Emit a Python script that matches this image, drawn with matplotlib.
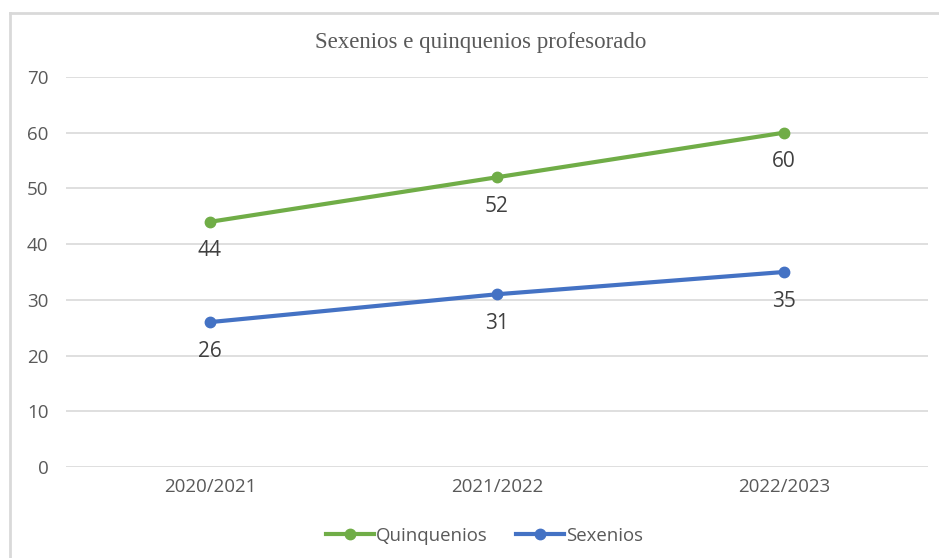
import matplotlib.pyplot as plt
from matplotlib.lines import Line2D

years = ['2020/2021', '2021/2022', '2022/2023']
quinquenios = [44, 52, 60]
sexenios = [26, 31, 35]
yticks = [0, 10, 20, 30, 40, 50, 60, 70]

green = '#70AD47'
blue = '#4472C4'
grey = '#595959'

fig = plt.figure(figsize=(9.39, 5.58), dpi=100)
ax = fig.add_axes([0.0708, 0.1631, 0.917, 0.699])

x = list(range(len(years)))
ax.plot(x, quinquenios, color=green, lw=3, marker='o', ms=7.5, label='Quinquenios',
        solid_capstyle='round', zorder=3)
ax.plot(x, sexenios, color=blue, lw=3, marker='o', ms=7.5, label='Sexenios',
        solid_capstyle='round', zorder=3)

for xi, v in zip(x, quinquenios):
    ax.annotate(str(v), (xi, v), xytext=(0, -21), textcoords='offset points',
                ha='center', va='center', fontsize=15, color='#404040', family='Open Sans')
for xi, v in zip(x, sexenios):
    ax.annotate(str(v), (xi, v), xytext=(0, -21), textcoords='offset points',
                ha='center', va='center', fontsize=15, color='#404040', family='Open Sans')

ax.set_xlim(-0.5, 2.5)
ax.set_ylim(0, 70)
ax.set_yticks(yticks)
ax.set_xticks(x)
ax.set_xticklabels(years)
ax.grid(axis='y', color='#D9D9D9', lw=1.2)
ax.set_axisbelow(True)
for s in ax.spines.values():
    s.set_visible(False)
ax.tick_params(length=0, labelsize=13.5, labelcolor=grey, pad=8)
ax.tick_params(axis='y', pad=13)
for lab in ax.get_xticklabels() + ax.get_yticklabels():
    lab.set_family('Open Sans')

fig.text(0.512, 0.924, 'Sexenios e quinquenios profesorado', ha='center', va='center',
         fontsize=16.5, color=grey, family='Liberation Serif')

handles = [Line2D([0], [0], color=green, lw=3, marker='o', ms=7.5),
           Line2D([0], [0], color=blue, lw=3, marker='o', ms=7.5)]
fig.legend(handles, ['Quinquenios', 'Sexenios'], loc='center', bbox_to_anchor=(0.516, 0.040),
           ncol=2, frameon=False, prop={'family': 'Open Sans', 'size': 13.4},
           labelcolor=grey, handlelength=2.6, handletextpad=0.1, columnspacing=1.5)

# chart frame (top and left edges visible in the crop)
fig.add_artist(Line2D([10 / 939, 1], [1 - 13 / 558, 1 - 13 / 558], color='#D9D9D9', lw=2,
                      transform=fig.transFigure))
fig.add_artist(Line2D([10 / 939, 10 / 939], [0, 1 - 13 / 558], color='#D9D9D9', lw=2,
                      transform=fig.transFigure))

plt.savefig('out.png', dpi=100)
